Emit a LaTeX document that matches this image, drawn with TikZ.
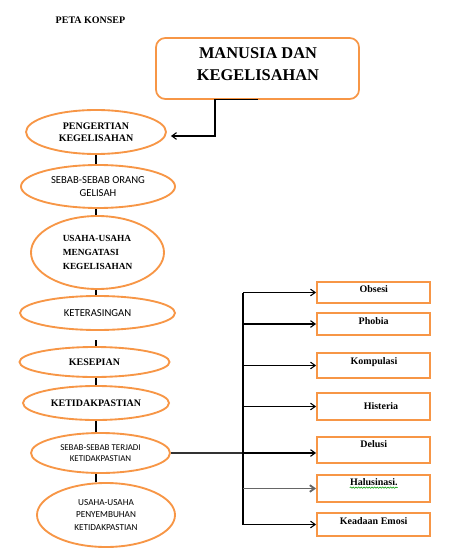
\documentclass[tikz,border=0pt]{standalone}
\usepackage{fontspec}
\setmainfont{Liberation Serif}
\newfontfamily\calibri{Carlito}
\usetikzlibrary{arrows.meta,positioning,shapes.geometric,decorations.pathmorphing}
\definecolor{konsep}{RGB}{247,150,70}

\begin{document}
\begin{tikzpicture}[x=0.75pt,y=-0.75pt,>={Straight Barb[length=3.5pt,width=5pt]},
  oval/.style={draw=konsep,line width=1.4pt,ellipse,inner sep=0pt,align=center},
  ovalserif/.style={oval,font=\bfseries\fontsize{7.5}{8.8}\selectfont},
  ovalsans/.style={oval,font=\calibri\fontsize{8}{9.75}\selectfont},
  leafbox/.style={draw=konsep,line width=1.4pt,minimum width=84.75pt,inner sep=0pt},
  leaftext/.style={font=\bfseries\fontsize{7.5}{9}\selectfont,inner sep=0pt,text height=5pt,text depth=0pt},
  garis/.style={line width=0.8pt}]
\useasboundingbox (0,0) rectangle (451,552);

% judul
\node[font=\bfseries\fontsize{7.5}{9}\selectfont] (peta) at (90.5,20.5) {PETA KONSEP};
\node[draw=konsep,line width=1.3pt,rounded corners=7pt,minimum width=152.25pt,minimum height=45.75pt] (judul) at (257.5,68.5) {};
\node[align=center,font=\bfseries\fontsize{12.3}{16.5}\selectfont] (judulT) at (258,64) {MANUSIA DAN\\KEGELISAHAN};

% elips kiri
\node[ovalserif,minimum width=105pt,minimum height=33pt] (pengertian) at (96,132) {PENGERTIAN\\KEGELISAHAN};
\node[ovalsans,minimum width=115.5pt,minimum height=32.25pt] (sebab) at (98,186.5) {SEBAB-SEBAB ORANG\\GELISAH};
\node[ovalserif,minimum width=99.75pt,minimum height=54.75pt,align=left,font=\bfseries\fontsize{7}{10.3}\selectfont] (usaha) at (97.5,252.5) {USAHA-USAHA\\MENGATASI\\KEGELISAHAN};
\node[ovalsans,minimum width=116.25pt,minimum height=25.5pt] (asing) at (97.5,313) {KETERASINGAN};
\node[ovalserif,minimum width=112.5pt,minimum height=22.5pt] (sepi) at (94.5,362) {KESEPIAN};
\node[ovalserif,minimum width=109.5pt,minimum height=25.5pt] (pasti) at (96,403) {KETIDAKPASTIAN};
\node[ovalsans,minimum width=104.25pt,minimum height=30pt,font=\calibri\fontsize{6.7}{8.6}\selectfont] (sebabpasti) at (100.5,453) {SEBAB-SEBAB TERJADI\\KETIDAKPASTIAN};
\node[ovalsans,minimum width=103.5pt,minimum height=48pt,font=\calibri\fontsize{6.9}{9.4}\selectfont] (sembuh) at (106,515) {USAHA-USAHA\\PENYEMBUHAN\\KETIDAKPASTIAN};

% kotak kanan
\node[leafbox,minimum height=15.75pt] (obsesi) at (373.5,292.5) {};
\node[leaftext] (obsesiT) at (373.8,289) {Obsesi};
\node[leafbox,minimum height=16.5pt] (phobia) at (373.5,324) {};
\node[leaftext] (phobiaT) at (373.7,321) {Phobia};
\node[leafbox,minimum height=18.75pt] (kompulasi) at (373.5,365.5) {};
\node[leaftext] (kompulasiT) at (374,361) {Kompulasi};
\node[leafbox,minimum height=20.25pt] (histeria) at (373.5,406.5) {};
\node[leaftext] (histeriaT) at (381,406) {Histeria};
\node[leafbox,minimum height=19.5pt] (delusi) at (373.5,450) {};
\node[leaftext] (delusiT) at (373.7,444) {Delusi};
\node[leafbox,minimum height=20.25pt] (halu) at (373.5,488.5) {};
\node[leaftext] (haluT) at (373.8,482) {Halusinasi.};
\node[leafbox,minimum height=17.25pt] (emosi) at (373.5,524.5) {};
\node[leaftext] (emosiT) at (373.7,521) {Keadaan Emosi};

% garis judul ke pengertian
\coordinate (siku) at (215,136);
\draw[garis,->,shorten >=3pt] (judul.south) -| (siku) -- (siku -| pengertian.east);

% garis tengah
\coordinate (tulang) at (96,0);
\draw[garis] (pengertian.south -| tulang) -- (sebab.north -| tulang);
\draw[garis] (sebab.south -| tulang) -- (usaha.north -| tulang);
\draw[garis] (usaha.south -| tulang) -- (asing.north -| tulang);
\draw[garis,shorten <=7pt] (asing.south -| tulang) -- (sepi.north -| tulang);
\draw[garis] (sepi.south -| tulang) -- (pasti.north -| tulang);
\draw[garis] (pasti.south -| tulang) -- (sebabpasti.north -| tulang);
\draw[garis] (sebabpasti.south -| tulang) -- (sembuh.north -| tulang);

% cabang ke kanan
\coordinate (batang) at (243,0);
\draw[line width=1.4pt,black!80] (sebabpasti.east) -- (sebabpasti.east -| batang);
\draw[garis] (batang |- obsesi.west) -- (batang |- emosi.west);
\draw[garis,->] (batang |- obsesi.west) -- (obsesi.west);
\draw[garis,->] (batang |- phobia.west) -- (phobia.west);
\draw[garis,->] (batang |- kompulasi.west) -- (kompulasi.west);
\draw[garis,->] (batang |- histeria.west) -- (histeria.west);
\draw[garis,->] (sebabpasti.east -| batang) -- (sebabpasti.east -| delusi.west);
\draw[line width=1.4pt,black!60,->] (batang |- halu.west) -- (halu.west);
\draw[garis,->] (batang |- emosi.west) -- (emosi.west);

\draw[green!60!black,line width=0.4pt,decorate,decoration={snake,amplitude=0.5pt,segment length=2pt}] ([yshift=-1.5pt]haluT.south west) -- ([yshift=-1.5pt]haluT.south east);
\end{tikzpicture}
\end{document}
